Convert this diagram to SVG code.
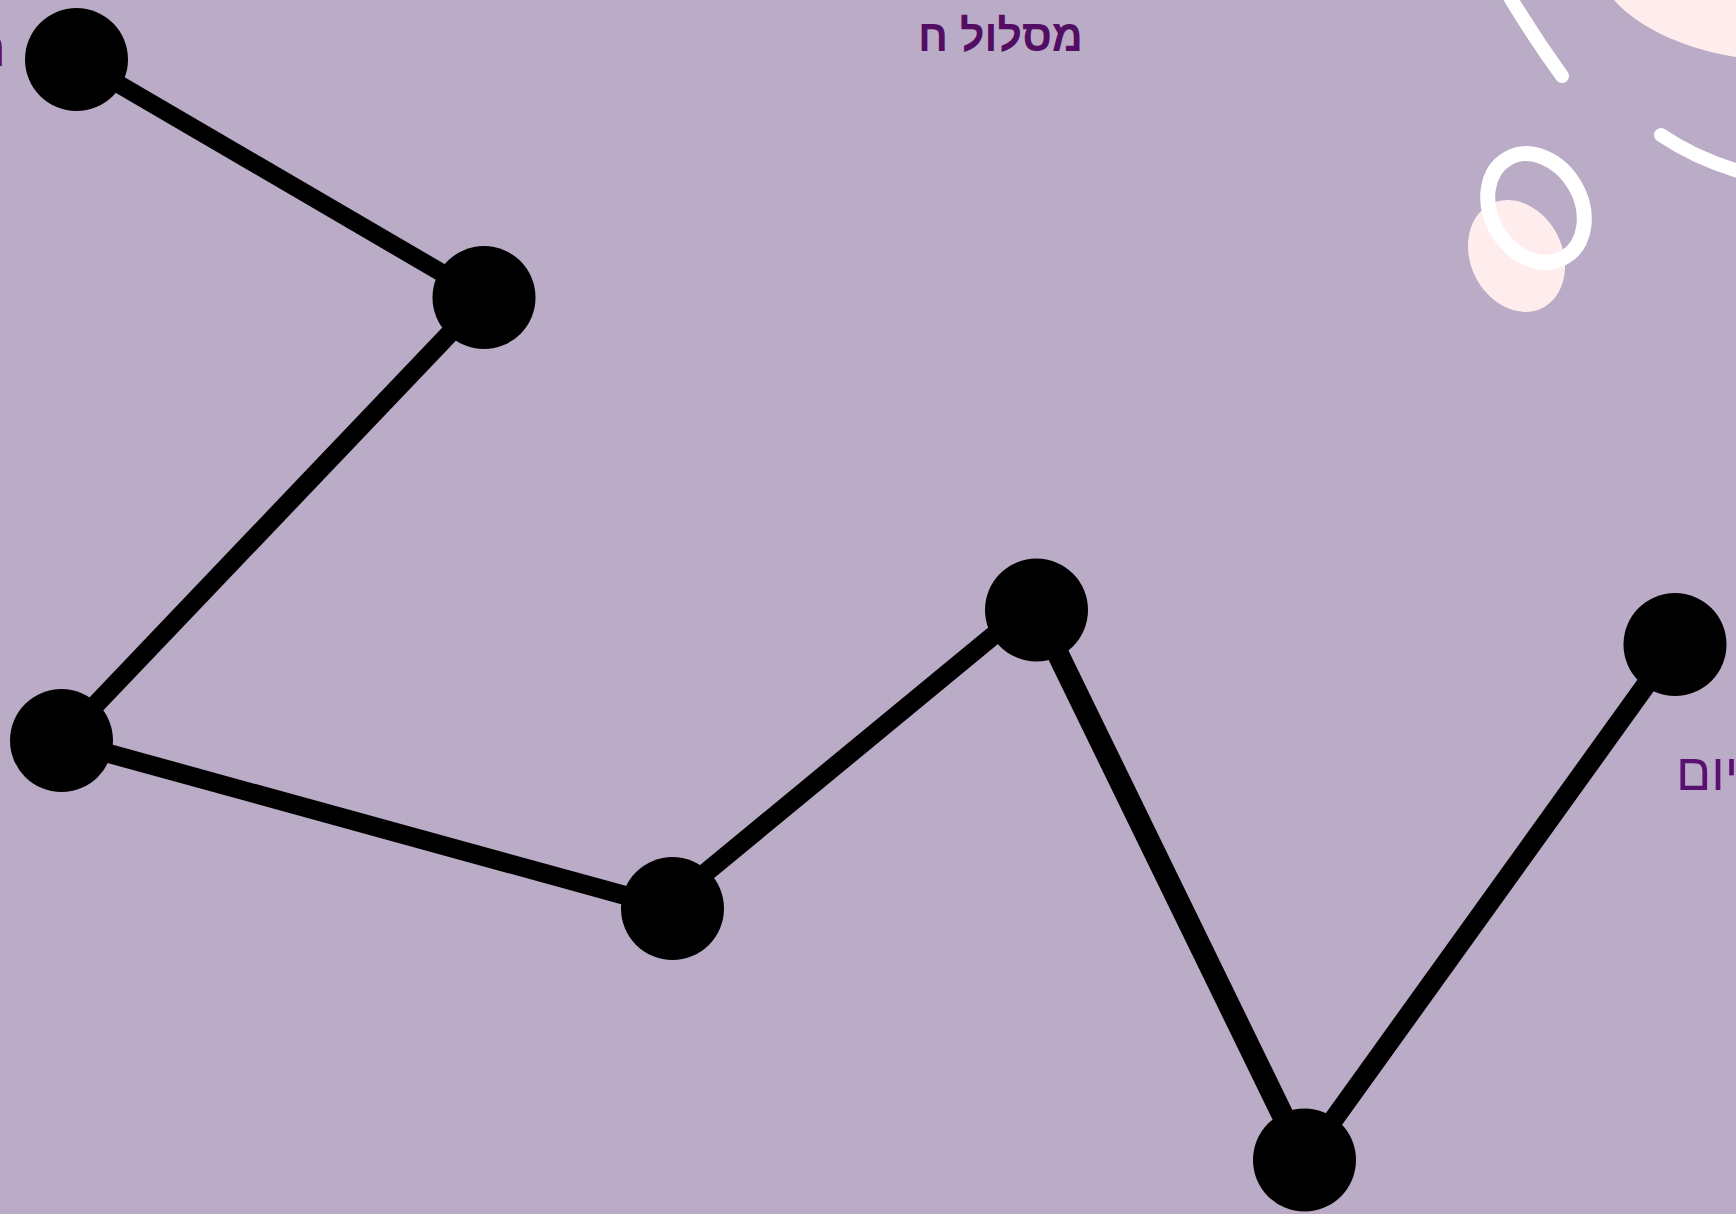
<svg xmlns="http://www.w3.org/2000/svg" width="1736" height="1214" viewBox="0 0 1736 1214">
  <style>
    .edge { stroke: #000000; stroke-width: 19; stroke-linecap: butt; fill: none; }
    .node { fill: #000000; }
    .deco-line { stroke: #ffffff; stroke-width: 14; stroke-linecap: round; fill: none; }
    .title { font-family: "Liberation Sans", "DejaVu Sans", sans-serif; font-weight: bold; font-size: 44px; fill: #530d63; }
    .label { font-family: "Liberation Sans", "DejaVu Sans", sans-serif; font-size: 52px; fill: #5a1070; }
  </style>
  <rect id="background" x="0" y="0" width="1736" height="1214" fill="#baacc6"/>

  <g id="decorations">
    <path d="M1614,0 C1640,30 1690,50 1736,57 L1736,0 Z" fill="#ffeded"/>
    <path class="deco-line" d="M1508,-6 Q1533,36 1562,76"/>
    <path class="deco-line" d="M1661,135 Q1698,160 1745,173"/>
    <ellipse cx="1516.5" cy="256" rx="46" ry="58" transform="rotate(-26 1516.5 256)" fill="#ffeded"/>
    <ellipse cx="1536" cy="208" rx="45" ry="57" transform="rotate(-30 1536 208)" fill="none" stroke="#ffffff" stroke-width="15"/>
  </g>

  <text id="title" class="title" x="918" y="51" textLength="165" lengthAdjust="spacingAndGlyphs">מסלול ח</text>

  <g id="edges">
    <line class="edge" x1="76.5" y1="59.5" x2="484" y2="297.5" style="stroke-width:18"/>
    <line class="edge" x1="484" y1="297.5" x2="61.5" y2="740.5" style="stroke-width:19"/>
    <line class="edge" x1="61.5" y1="740.5" x2="672.5" y2="908.5" style="stroke-width:19"/>
    <line class="edge" x1="672.5" y1="900" x2="1036.5" y2="600" style="stroke-width:19"/>
    <line class="edge" x1="1036.5" y1="610" x2="1304.5" y2="1160" style="stroke-width:22"/>
    <line class="edge" x1="1304.5" y1="1160" x2="1675" y2="644.5" style="stroke-width:20"/>
  </g>

  <g id="node-1">
    <circle class="node" cx="76.5" cy="59.5" r="51.5"/>
    <text class="label" x="6" y="66" text-anchor="end">התחלה</text>
  </g>
  <g id="node-2">
    <circle class="node" cx="484" cy="297.5" r="51.5"/>
  </g>
  <g id="node-3">
    <circle class="node" cx="61.5" cy="740.5" r="51.5"/>
  </g>
  <g id="node-4">
    <circle class="node" cx="672.5" cy="908.5" r="51.5"/>
  </g>
  <g id="node-5">
    <circle class="node" cx="1036.5" cy="610" r="51.5"/>
  </g>
  <g id="node-6">
    <circle class="node" cx="1304.5" cy="1160" r="51.5"/>
  </g>
  <g id="node-7">
    <circle class="node" cx="1675" cy="644.5" r="51.5"/>
    <text class="label" x="1676" y="790" text-anchor="start">סיום</text>
  </g>
</svg>
